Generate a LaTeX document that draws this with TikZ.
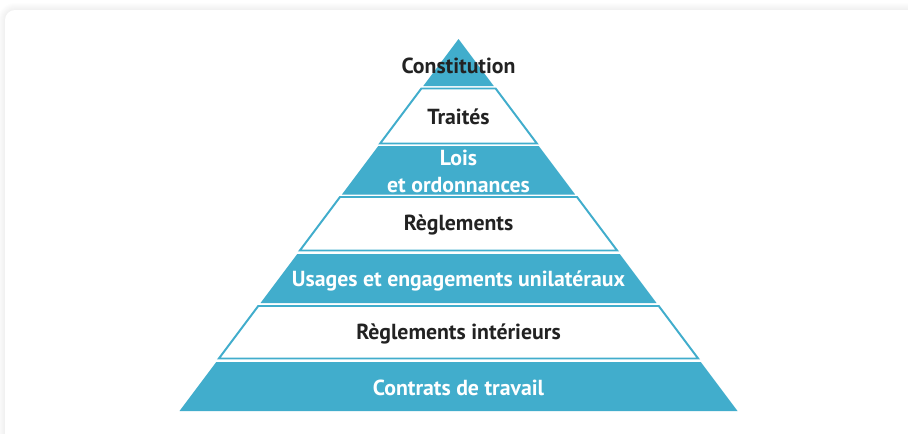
\documentclass[tikz,border=0pt]{standalone}
\usepackage{fontspec}
\setmainfont{PT Sans}
\usepackage{xcolor}
\usepackage{tikz}
\usetikzlibrary{positioning, calc}

\definecolor{pyrblue}{RGB}{65,173,204}
\definecolor{pyrtext}{RGB}{34,34,34}

\tikzset{
    level/.style={fill=pyrblue},
    levelbox/.style={draw=pyrblue, line width=1.1pt, fill=white, line join=miter},
    darklabel/.style={font=\bfseries\fontsize{12.4}{15.3}\selectfont, text=pyrtext, align=center},
    lightlabel/.style={font=\bfseries\fontsize{12.4}{15.3}\selectfont, text=white, align=center}
}

\begin{document}
\begin{tikzpicture}[x=0.02cm, y=-0.02cm]
\useasboundingbox (0,0) rectangle (908,433);
\clip (0,0) rectangle (908,433);

% Card and its shadow
\foreach \i in {1,...,7} {
    \fill[black, opacity=0.009, rounded corners={(10+\i)*0.02cm}] (5-\i, 10-\i) rectangle (940+\i, 460+\i);
}
\fill[white, rounded corners=0.2cm] (5,10) rectangle (940,460);

% Filled levels
\foreach \t/\b in {39/86, 146/194.5, 254/303, 362/411} {
    \fill[level] ({458.5-0.75*(\t-39)}, \t) -- ({458.5+0.75*(\t-39)}, \t)
        -- ({458.5+0.75*(\b-39)}, \b) -- ({458.5-0.75*(\b-39)}, \b) -- cycle;
}

% Outlined levels
\foreach \t/\b in {88.5/143.5, 197/250.5, 306/358.5} {
    \draw[levelbox] ({458.5-0.75*(\t-39)}, \t) -- ({458.5+0.75*(\t-39)}, \t)
        -- ({458.5+0.75*(\b-39)}, \b) -- ({458.5-0.75*(\b-39)}, \b) -- cycle;
}

% Labels
\node[darklabel] (constitution) at (458.5, 66) {Constitution};
\node[darklabel] (traites) at (458.5, 117) {Traités};
\node[lightlabel] (lois) at (458.5, 171.5) {Lois\\et ordonnances};
\node[darklabel] (reglements) at (458.5, 225) {Règlements};
\node[lightlabel] (usages) at (458.5, 281) {Usages et engagements unilatéraux};
\node[darklabel] (interieurs) at (458.5, 333.5) {Règlements intérieurs};
\node[lightlabel] (contrats) at (458.5, 388) {Contrats de travail};
\end{tikzpicture}
\end{document}
